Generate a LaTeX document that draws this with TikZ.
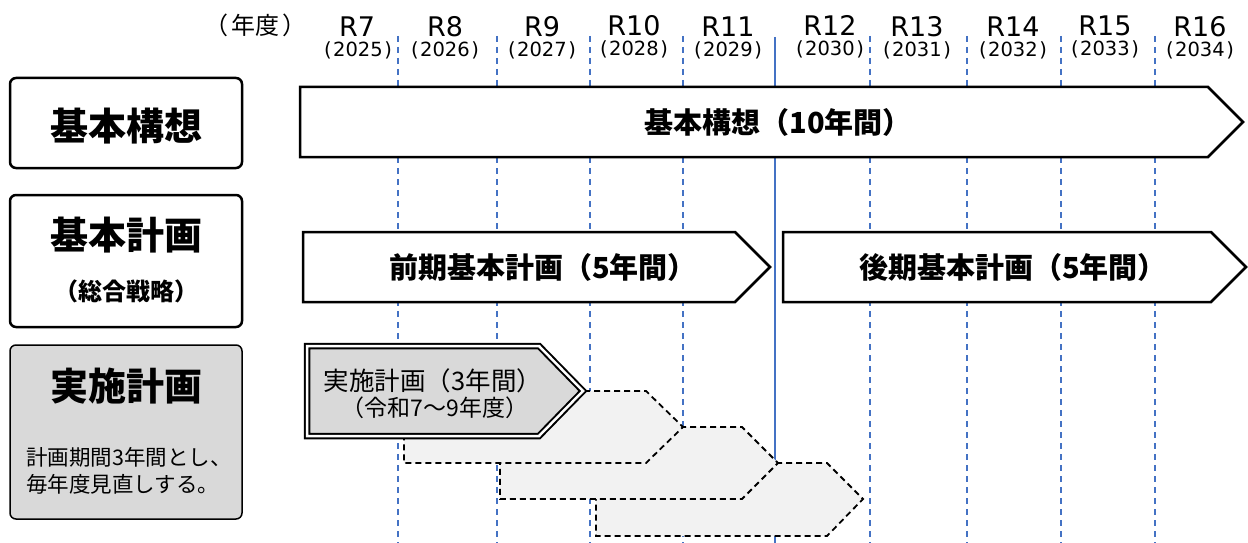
\documentclass[tikz,border=0pt]{standalone}
\usepackage{fontspec}
\setmainfont{Noto Sans CJK JP}
\newfontfamily\latinfont{DejaVu Sans}
\definecolor{guideblue}{HTML}{4472C4}
\definecolor{plangray}{HTML}{D9D9D9}
\definecolor{nextgray}{HTML}{F2F2F2}
\begin{document}
\begin{tikzpicture}[x=1pt,y=-1pt,
  guide/.style={guideblue,line width=1.5pt,dash pattern=on 6pt off 5pt},
  headbox/.style={draw,line width=2.5pt,rounded corners=6pt},
  period/.style={draw,line width=2.5pt,fill=white},
  nextplan/.style={draw,line width=1.8pt,dash pattern=on 6pt off 4pt,fill=nextgray},
  yr/.style={anchor=base,inner sep=0pt,font=\latinfont\fontsize{27}{30}\selectfont},
  ad/.style={anchor=base,inner sep=0pt,font=\latinfont\fontsize{19.5}{21}\selectfont},
  big/.style={inner sep=0pt,font=\bfseries\fontsize{38}{40}\selectfont},
  mid/.style={inner sep=0pt,font=\bfseries\fontsize{29}{31}\selectfont}]
\useasboundingbox (0,0) rectangle (1248,543);
% year grid
\draw[guide] (398,36) -- (398,543);
\draw[guide] (497,36) -- (497,543);
\draw[guide] (590,36) -- (590,543);
\draw[guide] (683,36) -- (683,543);
\draw[guideblue,line width=1.5pt] (775,37) -- (775,543);
\draw[guide] (870,36) -- (870,543);
\draw[guide] (967,36) -- (967,543);
\draw[guide] (1061,36) -- (1061,543);
\draw[guide] (1155,36) -- (1155,543);
% header
\node[anchor=base,inner sep=0pt,font=\fontsize{24}{26}\selectfont] (nendo) at (255,35) {（\hspace{3pt}年度\hspace{3pt}）};
\node[yr] (r7) at (357,37) {R7};
\node[yr] (r8) at (445,37) {R8};
\node[yr] (r9) at (542,37) {R9};
\node[yr] (r10) at (634,36) {R10};
\node[yr] (r11) at (728,37) {R11};
\node[yr] (r12) at (830,36) {R12};
\node[yr] (r13) at (917,37) {R13};
\node[yr] (r14) at (1013,37) {R14};
\node[yr] (r15) at (1105,36) {R15};
\node[yr] (r16) at (1200,37) {R16};
\node[ad] (y2025) at (358,57) {(\hspace{1.5pt}2025\hspace{1.5pt})};
\node[ad] (y2026) at (445,57) {(\hspace{1.5pt}2026\hspace{1.5pt})};
\node[ad] (y2027) at (542,57) {(\hspace{1.5pt}2027\hspace{1.5pt})};
\node[ad] (y2028) at (634,56) {(\hspace{1.5pt}2028\hspace{1.5pt})};
\node[ad] (y2029) at (728,57) {(\hspace{1.5pt}2029\hspace{1.5pt})};
\node[ad] (y2030) at (830,56) {(\hspace{1.5pt}2030\hspace{1.5pt})};
\node[ad] (y2031) at (917,57) {(\hspace{1.5pt}2031\hspace{1.5pt})};
\node[ad] (y2032) at (1013,57) {(\hspace{1.5pt}2032\hspace{1.5pt})};
\node[ad] (y2033) at (1105,56) {(\hspace{1.5pt}2033\hspace{1.5pt})};
\node[ad] (y2034) at (1200,57) {(\hspace{1.5pt}2034\hspace{1.5pt})};
% left column
\draw[headbox] (10,78) rectangle (242,168);
\draw[headbox] (10,195) rectangle (242,327);
\draw[headbox,line width=1.5pt,fill=plangray] (10,345) rectangle (242,519);
\node[big] (kousou) at (126,126) {基本構想};
\node[big] (keikaku) at (126,235) {基本計画};
\node[inner sep=0pt,font=\bfseries\fontsize{24}{26}\selectfont] (senryaku) at (126,291) {（総合戦略）};
\node[big] (jisshi) at (126,386) {実施計画};
\node[anchor=west,inner sep=0pt,align=left,font=\fontsize{21.5}{27}\selectfont] (jisshinote) at (26,471) {計画期間3年間とし、\\毎年度見直しする。};
% periods
\draw[period] (300,87) -- (1208,87) -- (1243,122) -- (1208,157) -- (300,157) -- cycle;
\node[mid] (kousou10) at (778,122) {基本構想（10年間）};
\draw[period] (303,232) -- (735,232) -- (770,267) -- (735,302) -- (303,302) -- cycle;
\node[mid] (zenki) at (543,267) {前期基本計画（5年間）};
\draw[period] (783,232) -- (1211,232) -- (1246,267) -- (1211,302) -- (783,302) -- cycle;
\node[mid] (kouki) at (1013,267) {後期基本計画（5年間）};
% rolling plans
\draw[nextplan] (596,463) -- (827,463) -- (863,499) -- (827,536) -- (596,536) -- cycle;
\draw[nextplan] (500,427) -- (742,427) -- (778,463) -- (742,499) -- (500,499) -- cycle;
\draw[nextplan] (404,391) -- (646,391) -- (683,427) -- (646,463) -- (404,463) -- cycle;
\draw[line width=2pt,double=white,double distance=2.5pt,fill=plangray]
  (307,346) -- (539,346) -- (583,391) -- (539,436) -- (307,436) -- cycle;
\node[inner sep=0pt,font=\fontsize{25.5}{27}\selectfont] (jisshi3) at (433,381) {実施計画（3年間）};
\node[inner sep=0pt,font=\fontsize{23}{25}\selectfont] (reiwa) at (435,408) {（令和7～9年度）};
\end{tikzpicture}
\end{document}
